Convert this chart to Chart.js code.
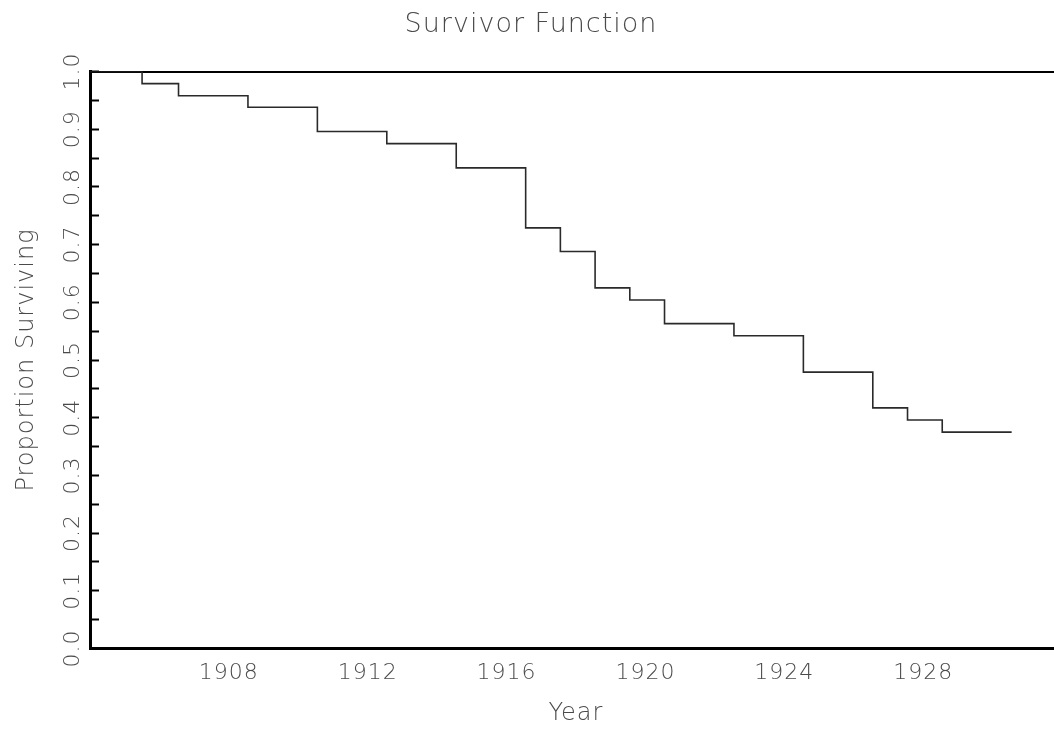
<!DOCTYPE html>
<html><head><meta charset="utf-8">
<script src="https://cdn.jsdelivr.net/npm/chart.js@4/dist/chart.umd.min.js"></script>
<style>html,body{margin:0;padding:0;overflow:hidden;background:#fff;width:1054px;height:730px}canvas{display:block}</style>
</head><body>
<canvas id="c" width="1152" height="730"></canvas>
<script>
// Kaplan-Meier style survivor curve (drop times in years, survival after each drop)
const eventYears = [1904, 1905.5, 1906.55, 1908.55, 1910.55, 1912.55, 1914.55, 1916.55, 1917.55, 1918.55, 1919.55, 1920.55, 1922.55, 1924.55, 1926.55, 1927.55, 1928.55, 1930.55];
const survival   = [1.0, 0.979, 0.958, 0.938, 0.896, 0.875, 0.833, 0.729, 0.688, 0.625, 0.604, 0.563, 0.542, 0.479, 0.417, 0.396, 0.375, 0.375];
const xTickLabels = [1908, 1912, 1916, 1920, 1924, 1928];
const yTickLabels = ['0.0', '0.1', '0.2', '0.3', '0.4', '0.5', '0.6', '0.7', '0.8', '0.9', '1.0'];
const yTickMarks  = [0, 0.05, 0.1, 0.15, 0.2, 0.25, 0.3, 0.35, 0.4, 0.45, 0.5, 0.55, 0.6, 0.65, 0.7, 0.75, 0.8, 0.85, 0.9, 0.95, 1.0];

const FAMILY = '"DejaVu Sans", sans-serif';
const TEXT = '#4a4a4a';

const spacingPlugin = {
  id: 'spacing',
  beforeDraw(chart) {
    const ctx = chart.ctx;
    ctx.save();
    ctx.fillStyle = '#fff';
    ctx.fillRect(0, 0, chart.width, chart.height);
    ctx.restore();
    ctx.letterSpacing = '1px';
  }
};

new Chart(document.getElementById('c'), {
  type: 'line',
  data: {
    datasets: [{
      data: eventYears.map((x, i) => ({ x, y: survival[i] })),
      borderColor: '#2a2a2a',
      borderWidth: 1.6,
      pointRadius: 0,
      stepped: 'before',
      fill: false,
      tension: 0
    }]
  },
  options: {
    responsive: false,
    animation: false,
    devicePixelRatio: 1,
    layout: { padding: { left: 0, top: 0, bottom: 0, right: 90 } },
    plugins: {
      legend: { display: false },
      tooltip: { enabled: false },
      title: {
        display: true,
        text: 'Survivor Function',
        color: TEXT,
        font: { family: FAMILY, size: 27, weight: 200, lineHeight: 1.2 },
        padding: { top: 9, bottom: 0 }
      }
    },
    scales: {
      x: {
        type: 'linear', position: 'bottom', min: 1904, max: 1932,
        afterBuildTicks: s => { s.ticks = xTickLabels.map(v => ({ value: v })); },
        afterFit: s => { s.height = 81.5; },
        grid: { drawOnChartArea: false, drawTicks: false },
        border: { display: true, color: '#000', width: 3 },
        ticks: { autoSkip: false, maxRotation: 0, padding: 12, color: TEXT,
          font: { family: FAMILY, size: 22, weight: 200 },
          callback: v => String(v) },
        title: { display: true, text: 'Year', color: TEXT,
          font: { family: FAMILY, size: 24, weight: 200 }, padding: { top: 0, bottom: 2 } }
      },
      x2: {
        type: 'linear', position: 'top', display: true, min: 1904, max: 1932,
        afterFit: s => { s.height = 71.5 - (27 * 1.2 + 9); },
        grid: { drawOnChartArea: false, drawTicks: false },
        border: { display: true, color: '#000', width: 2 },
        ticks: { display: false }
      },
      y: {
        type: 'linear', position: 'left', min: 0, max: 1,
        afterBuildTicks: s => { s.ticks = yTickMarks.map(v => ({ value: v })); },
        afterFit: s => { s.width = 90; },
        grid: { drawOnChartArea: false, drawTicks: true, tickLength: -9, tickWidth: 2, tickColor: '#000' },
        border: { display: true, color: '#000', width: 3 },
        ticks: {
          autoSkip: false, minRotation: 90, maxRotation: 90, crossAlign: 'center', padding: 8,
          color: TEXT, font: { family: FAMILY, size: 22, weight: 200 },
          callback: v => {
            const t = yTickLabels.find(l => Math.abs(parseFloat(l) - v) < 1e-9);
            return t === undefined ? '' : t;
          }
        },
        title: { display: true, text: 'Proportion Surviving', color: TEXT,
          font: { family: FAMILY, size: 24, weight: 200 }, padding: { top: 12, bottom: 0 } }
      }
    }
  },
  plugins: [spacingPlugin]
});
</script>
</body></html>
